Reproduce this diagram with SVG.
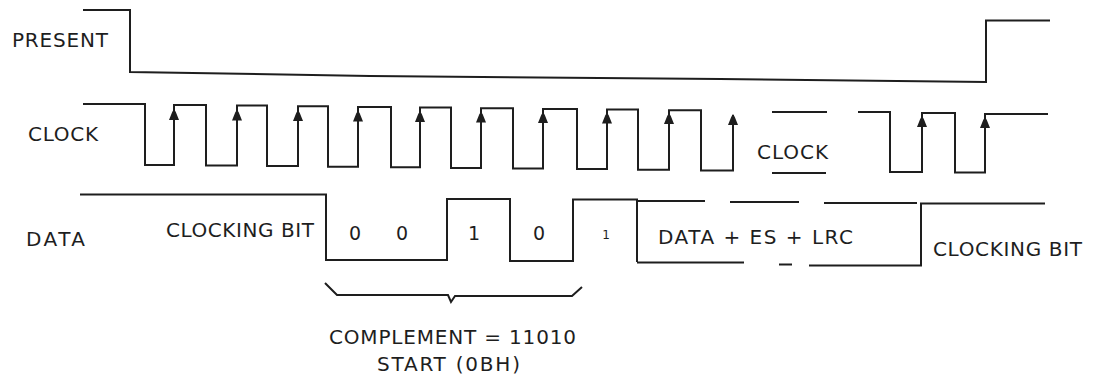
<svg xmlns="http://www.w3.org/2000/svg" xmlns:xlink="http://www.w3.org/1999/xlink" width="1098" height="380" viewBox="0 0 1098 380">
<style>
.w{fill:none;stroke:#1e1e1e;stroke-width:2;stroke-linejoin:miter;stroke-linecap:butt}
.t{font-family:"DejaVu Sans","Liberation Sans",sans-serif;fill:#1e1e1e;font-size:20px}
.d{font-size:19px;text-anchor:middle}
</style>
<defs>
<path id="ah" d="M0,0 L-1.8,3 L-5,11 L5,11 L1.8,3 Z" fill="#1e1e1e"/>
</defs>
<rect width="1098" height="380" fill="#fff"/>
<g id="present">
<polyline class="w" points="83,10 130,10 130,72 370,76 720,79 986,82 986,20.5 1050,20.5"/>
<text class="t" x="12" y="47" textLength="96" lengthAdjust="spacing">PRESENT</text>
</g>
<g id="clock">
<path class="w" d="M83,104 H145 V165 H174 V105 H206 V165.6 H237 V105.6 H267 V166.1 H298 V106.2 H328 V166.7 H358 V106.9 H391 V167.3 H420 V107.5 H451 V167.9 H481 V108.2 H513 V168.5 H543 V108.9 H577 V169.1 H607 V109.5 H638 V169.8 H669 V110.2 H701 V170.4 H733 V115"/>
<path class="w" d="M858,112 H890 V172 H922 V113 H955 V172.5 H985 V114 H1048"/>
<path class="w" d="M772,112 H827 M772,173 H826"/>
<use xlink:href="#ah" x="174" y="109"/>
<use xlink:href="#ah" x="237" y="109.5"/>
<use xlink:href="#ah" x="298" y="110"/>
<use xlink:href="#ah" x="358" y="110.5"/>
<use xlink:href="#ah" x="420" y="111"/>
<use xlink:href="#ah" x="481" y="111.5"/>
<use xlink:href="#ah" x="543" y="112"/>
<use xlink:href="#ah" x="607" y="112.5"/>
<use xlink:href="#ah" x="669" y="113"/>
<use xlink:href="#ah" x="733" y="114"/>
<use xlink:href="#ah" x="922" y="116"/>
<use xlink:href="#ah" x="985" y="117"/>
<text class="t" x="28" y="141" textLength="70" lengthAdjust="spacing">CLOCK</text>
<text class="t" x="757" y="159" textLength="71" lengthAdjust="spacing">CLOCK</text>
</g>
<g id="data">
<path class="w" d="M80,194.5 H326 V260 H447 V199 H510 V261 H573 V199.5 H637 V262"/>
<path class="w" d="M637,201 H705 M730,202 H799 M824,203 H917"/>
<path class="w" d="M637,262.5 H744 M779,264.5 H792 M809,265.5 H921 V203.5 H1045"/>
<text class="t" x="26" y="246" font-size="19" textLength="59" lengthAdjust="spacing">DATA</text>
<text class="t" x="166" y="237" textLength="148" lengthAdjust="spacing">CLOCKING BIT</text>
<text class="t d" x="355" y="239.5">0</text>
<text class="t d" x="402" y="239.5">0</text>
<text class="t d" x="474" y="239.5">1</text>
<text class="t d" x="539" y="239.5">0</text>
<text class="t d" x="606" y="239" style="font-size:12px">1</text>
<text class="t" x="658" y="244" font-size="18" textLength="195" lengthAdjust="spacing">DATA + ES + LRC</text>
<text class="t" x="933" y="256" textLength="149" lengthAdjust="spacing">CLOCKING BIT</text>
</g>
<g id="brace">
<polyline class="w" points="325,283 337,295 448,295 451,302 455,296 572,296 582,287"/>
<text class="t" x="329" y="344" textLength="247" lengthAdjust="spacing">COMPLEMENT = 11010</text>
<text class="t" x="377" y="371" textLength="143" lengthAdjust="spacing">START (0BH)</text>
</g>
</svg>
